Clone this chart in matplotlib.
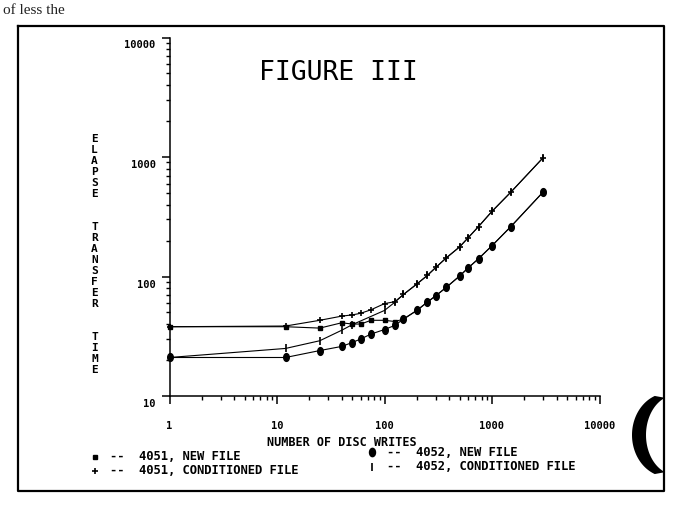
import matplotlib
matplotlib.use("Agg")
import matplotlib.pyplot as plt
from matplotlib.path import Path
from matplotlib.markers import MarkerStyle
from matplotlib.transforms import ScaledTranslation
from matplotlib.lines import Line2D
from matplotlib.patches import Polygon
from matplotlib.ticker import FixedLocator, FixedFormatter, NullFormatter, LogLocator
import numpy as np

W, H, DPI = 678, 507, 100

# ---------------- data ----------------
x_4051_new = [1, 12, 25, 40, 50, 60, 75, 100, 125, 150, 200, 250, 300, 375, 500, 600, 750, 1000, 1500, 3000]
y_4051_new = [38, 38, 37, 41, 40, 40, 43, 43, 42, 44, 52, 61, 69, 81, 101, 118, 141, 181, 262, 511]

x_4051_cond = [1, 12, 25, 40, 50, 60, 75, 100, 125, 150, 200, 250, 300, 375, 500, 600, 750, 1000, 1500, 3000]
y_4051_cond = [38, 38.5, 43, 46.6, 47.7, 49.2, 52.7, 59.3, 61.6, 70.7, 86.5, 102, 119, 143, 177, 211, 262, 351, 509, 990]

x_4052_new = [1, 12, 25, 40, 50, 60, 75, 100, 125, 150, 200, 250, 300, 375, 500, 600, 750, 1000, 1500, 3000]
y_4052_new = [21, 21, 24, 26, 28, 30, 33, 36, 39, 44, 52, 61, 69, 81, 101, 118, 141, 181, 262, 511]

x_4052_cond = [1, 12, 25, 40, 50, 100, 125, 150, 200, 250, 300, 375, 500, 600, 750, 1000, 1500, 3000]
y_4052_cond = [21, 25, 29, 35.5, 39.5, 52, 61, 70.7, 86.5, 102, 119, 143, 177, 211, 262, 351, 509, 990]

x_ticks = [1, 10, 100, 1000, 10000]
x_tick_labels = ["1", "10", "100", "1000", "10000"]
y_ticks = [10, 100, 1000, 10000]
y_tick_labels = ["10", "100", "1000", "10000"]

title_text = "FIGURE III"
x_label = "NUMBER OF DISC WRITES"
y_label = "ELAPSE  TRANSFER  TIME"
legend_labels = ["4051, NEW FILE", "4051, CONDITIONED FILE",
                 "4052, NEW FILE", "4052, CONDITIONED FILE"]

# ---------------- helpers ----------------
def fx(px):
    return px / W

def fy(py):
    return 1 - py / H

MONO = "DejaVu Sans Mono"

fig = plt.figure(figsize=(W / DPI, H / DPI), dpi=DPI)
fig.patch.set_facecolor("white")

ax = fig.add_axes([fx(169.5), fy(396), (599.5 - 169.5) / W, (396 - 37.5) / H])
ax.set_xscale("log")
ax.set_yscale("log")
ax.set_xlim(1, 10000)
ax.set_ylim(10, 10000)

circ = Path.unit_circle()
oval = MarkerStyle(Path(circ.vertices * np.array([0.72, 1.0]), circ.codes))

lw = 0.8
ax.plot(x_4051_new, y_4051_new, color="black", lw=lw, marker="s", ms=3.4,
        mfc="black", mec="black", zorder=3, clip_on=False)
ax.plot(x_4051_cond, y_4051_cond, color="black", lw=lw, marker="+", ms=5,
        mew=1.2, mec="black", zorder=3, clip_on=False)
ax.plot(x_4052_new, y_4052_new, color="black", lw=lw, marker=oval, ms=5.6,
        mfc="black", mec="black", zorder=3, clip_on=False)
ax.plot(x_4052_cond, y_4052_cond, color="black", lw=lw, marker="|", ms=5.5,
        mew=1.2, mec="black", zorder=3, clip_on=False)

for s in ["top", "right"]:
    ax.spines[s].set_visible(False)
for s in ["left", "bottom"]:
    ax.spines[s].set_linewidth(1.1)

ax.xaxis.set_major_locator(FixedLocator(x_ticks))
ax.xaxis.set_major_formatter(FixedFormatter(x_tick_labels))
ax.yaxis.set_major_locator(FixedLocator(y_ticks))
ax.yaxis.set_major_formatter(FixedFormatter(y_tick_labels))
ax.xaxis.set_minor_locator(LogLocator(base=10, subs=np.arange(2, 10)))
ax.yaxis.set_minor_locator(LogLocator(base=10, subs=np.arange(2, 10)))
ax.xaxis.set_minor_formatter(NullFormatter())
ax.yaxis.set_minor_formatter(NullFormatter())

ax.tick_params(axis="both", which="major", direction="out", length=6, width=1.1,
               labelsize=7.5, colors="black")
ax.tick_params(axis="both", which="minor", direction="out", length=3.2, width=1.0)
ax.tick_params(axis="x", which="major", pad=12)
ax.tick_params(axis="y", which="major", pad=4)
for lab in ax.get_xticklabels() + ax.get_yticklabels():
    lab.set_fontfamily(MONO)
    lab.set_fontweight("bold")
offset = ScaledTranslation(0, -7 / DPI, fig.dpi_scale_trans)
for lab in ax.get_yticklabels():
    lab.set_transform(lab.get_transform() + offset)

# title
fig.text(fx(338), fy(73), title_text, ha="center", va="center",
         fontsize=19, family=MONO, color="black")

# x label
fig.text(fx(342), fy(443), x_label, ha="center", va="center",
         fontsize=8.5, family=MONO, fontweight="bold")

# stacked y label
fig.text(fx(94.5), fy(254.5), "\n".join(list(y_label)), ha="center", va="center",
         fontsize=8, family=MONO, fontweight="bold", linespacing=1.12)

# legend (manual, as in the original plotter output)
legend_pos = [(95, 457), (95, 471), (372, 452), (372, 467)]
legend_markers = [dict(marker="s", ms=3), dict(marker="+", ms=4.5, mew=1.2),
                  dict(marker=oval, ms=6), dict(marker="|", ms=6, mew=1.2)]
for (px, py), mk, lab in zip(legend_pos, legend_markers, legend_labels):
    fig.add_artist(Line2D([fx(px)], [fy(py)], transform=fig.transFigure,
                          color="black", mfc="black", mec="black", lw=0, **mk))
    fig.text(fx(px + 15), fy(py), "--  " + lab, ha="left", va="center",
             fontsize=8.7, family=MONO, fontweight="bold")

# page frame
frame_x = [18, 664, 664, 18, 18]
frame_y = [26, 26, 491, 491, 26]
fig.add_artist(Line2D([fx(v) for v in frame_x], [fy(v) for v in frame_y],
                      transform=fig.transFigure, color="black", lw=1.6))

# binding-hole shadow at right edge
t = np.linspace(np.pi * 0.62, np.pi * 1.38, 60)
outer = np.column_stack([668 + 36 * np.cos(t), 435 + 42 * np.sin(t)])
inner = np.column_stack([676 + 30 * np.cos(t[::-1]), 435 + 40 * np.sin(t[::-1])])
pts = np.vstack([outer, inner])
fig.add_artist(Polygon(np.column_stack([pts[:, 0] / W, 1 - pts[:, 1] / H]),
                       closed=True, transform=fig.transFigure,
                       facecolor="black", edgecolor="none"))

# fragment of page text above the figure
fig.text(fx(3), fy(14), "of less the", ha="left", va="baseline",
         fontsize=11, family="Liberation Serif", color="#222222")

fig.savefig("out.png", dpi=DPI)
